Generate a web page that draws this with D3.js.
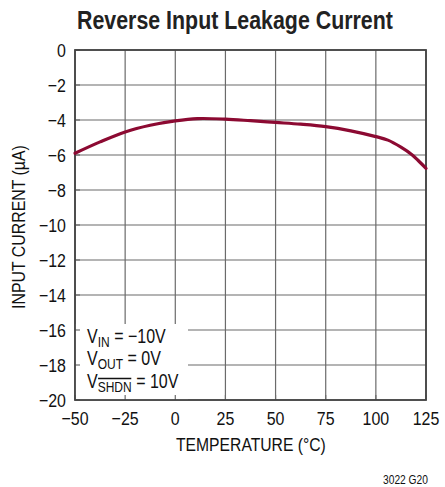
<!DOCTYPE html>
<html><head><meta charset="utf-8">
<script src="https://cdn.jsdelivr.net/npm/d3@7"></script>
<style>body{margin:0;background:#fff}</style>
</head><body>
<svg id="c" width="445" height="487"></svg>
<script>
const xTicks = [-50, -25, 0, 25, 50, 75, 100, 125];
const yTicks = [0, -2, -4, -6, -8, -10, -12, -14, -16, -18, -20];
const temps = [-50, -37.5, -25, -12.5, 0, 11, 25, 37.5, 50, 62.5, 75, 87.5, 100, 106, 112.5, 118, 121, 125];
const current = [-5.9, -5.25, -4.68, -4.3, -4.05, -3.92, -3.95, -4.04, -4.14, -4.24, -4.38, -4.62, -4.95, -5.15, -5.55, -5.98, -6.3, -6.76];
const title = "Reverse Input Leakage Current";
const xTitle = "TEMPERATURE (°C)";
const yTitle = "INPUT CURRENT (µA)";
const note = "3022 G20";
const legendRows = [["V", "IN", " = \u221210V"], ["V", "OUT", " = 0V"], ["V", "SHDN", " = 10V"]];

const font = "'Liberation Sans',Arial,sans-serif";
const SX = 0.84;
const svg = d3.select("#c");
const L = 75, R = 426, T = 50, B = 400;
const x = d3.scaleLinear().domain([-50, 125]).range([L, R]);
const y = d3.scaleLinear().domain([0, -20]).range([T, B]);

function ctext(px, py, str, size, anchor) {
  return svg.append("g").attr("transform", `translate(${px},${py}) scale(${SX},1)`)
    .append("text").attr("text-anchor", anchor).attr("font-family", font)
    .attr("font-size", size).attr("fill", "#111").text(str);
}
// text squeezed horizontally to a target width (condensed look)
function fitText(px, py, rot, str, size, width, weight, fill) {
  const g = svg.append("g");
  const t = g.append("text").attr("font-family", font).attr("font-size", size)
    .attr("font-weight", weight).attr("fill", fill).text(str);
  const w = t.node().getComputedTextLength();
  g.attr("transform", `translate(${px},${py}) rotate(${rot}) scale(${width / w},1)`);
  return t;
}

// grid
svg.append("g").selectAll("line").data(xTicks).join("line")
  .attr("x1", d => x(d)).attr("x2", d => x(d)).attr("y1", T).attr("y2", B)
  .attr("stroke", "#6b6b6b").attr("stroke-width", 1.2);
svg.append("g").selectAll("line").data(yTicks).join("line")
  .attr("y1", d => y(d)).attr("y2", d => y(d)).attr("x1", L).attr("x2", R)
  .attr("stroke", "#6b6b6b").attr("stroke-width", 1.2);

// legend white box
svg.append("rect").attr("x", L).attr("y", 324).attr("width", 113).attr("height", B - 324).attr("fill", "#fff");
// inner ticks
svg.append("g").selectAll("line").data(xTicks).join("line")
  .attr("x1", d => x(d)).attr("x2", d => x(d)).attr("y1", B - 5).attr("y2", B)
  .attr("stroke", "#6b6b6b").attr("stroke-width", 1.2);
svg.append("g").selectAll("line").data(yTicks).join("line")
  .attr("y1", d => y(d)).attr("y2", d => y(d)).attr("x1", L).attr("x2", L + 5)
  .attr("stroke", "#6b6b6b").attr("stroke-width", 1.2);

// frame
svg.append("rect").attr("x", L).attr("y", T).attr("width", R - L).attr("height", B - T)
  .attr("fill", "none").attr("stroke", "#444").attr("stroke-width", 1.8);

// curve
const line = d3.line().x((d, i) => x(temps[i])).y(d => y(d)).curve(d3.curveCatmullRom.alpha(0.5));
svg.append("path").datum(current).attr("d", line)
  .attr("fill", "none").attr("stroke", "#8c0a32").attr("stroke-width", 3.2).attr("stroke-linecap", "round");

// tick labels
yTicks.forEach(d => ctext(66, y(d) + 6.5, d === 0 ? "0" : "\u2212" + Math.abs(d), 19, "end"));
xTicks.forEach(d => ctext(x(d), 425, d < 0 ? "\u2212" + Math.abs(d) : String(d), 19, "middle"));

// titles
fitText(77, 29, 0, title, 25, 316, "bold", "#222");
fitText(176, 451, 0, xTitle, 18, 150, "normal", "#111");
fitText(25, 309, -90, yTitle, 18, 164, "normal", "#111");
fitText(383, 484, 0, note, 12, 45, "normal", "#111");

// legend text, built from separate pieces to keep sub-scripts apart
const baselines = [343.5, 365.5, 388];
const lg = svg.append("g").attr("transform", `translate(87,0) scale(0.8,1)`)
  .attr("font-family", font).attr("fill", "#111");
legendRows.forEach((row, i) => {
  const by = baselines[i];
  let cx = 0;
  const t1 = lg.append("text").attr("x", cx).attr("y", by).attr("font-size", 20).text(row[0]);
  cx += t1.node().getComputedTextLength();
  const t2 = lg.append("text").attr("x", cx).attr("y", by + 4).attr("font-size", 15).text(row[1]);
  const w2 = t2.node().getComputedTextLength();
  if (i === 2) {
    lg.append("line").attr("x1", cx + 0.5).attr("x2", cx + w2 - 0.5).attr("y1", by - 9.5).attr("y2", by - 9.5)
      .attr("stroke", "#111").attr("stroke-width", 1.3);
  }
  cx += w2;
  lg.append("text").attr("x", cx).attr("y", by).attr("font-size", 20).attr("xml:space", "preserve")
    .style("white-space", "pre").text(row[2]);
});
</script>
</body></html>
